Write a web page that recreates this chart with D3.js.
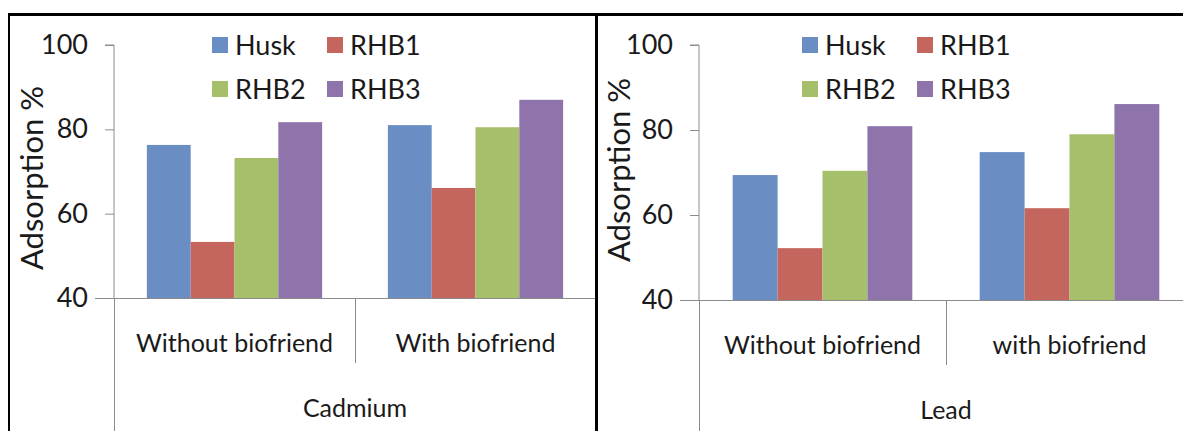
<!DOCTYPE html>
<html lang="en">
<head>
  <meta charset="UTF-8">
  <title>Adsorption % - Cadmium and Lead</title>
  <style>
    body { margin: 0; background: #fff; }
    text { font-family: Lato, "Liberation Sans", sans-serif; fill: #1a1a1a; }
    .axis-line { stroke: #8c8c8c; stroke-width: 1; shape-rendering: crispEdges; }
    .frame { stroke: #000; fill: none; shape-rendering: crispEdges; }
  </style>
  <script src="https://d3js.org/d3.v7.min.js"></script>
</head>
<body>
<div id="chart"></div>
<script>
  // Data
  var series = ["Husk", "RHB1", "RHB2", "RHB3"];
  var colors = ["#6a8dc3", "#c4665e", "#a6bf6a", "#8e74ab"];
  var yTicks = [40, 60, 80, 100];

  var cadmiumGroups = ["Without biofriend", "With biofriend"];
  var cadmiumValues = [
    [76.3, 53.3, 73.2, 81.7],
    [81.0, 66.1, 80.5, 87.0]
  ];

  var leadGroups = ["Without biofriend", "with biofriend"];
  var leadValues = [
    [69.4, 52.2, 70.4, 80.9],
    [74.8, 61.6, 79.0, 86.1]
  ];

  var width = 1183, height = 431;

  var svg = d3.select("#chart").append("svg")
    .attr("width", width)
    .attr("height", height);

  // one panel per metal
  var panels = [
    { metal: "Cadmium", groups: cadmiumGroups, values: cadmiumValues,
      left: 114, right: 596, top: 45, bottom: 298, titleX: 32, titleY: 178,
      legendX: 212 },
    { metal: "Lead", groups: leadGroups, values: leadValues,
      left: 699, right: 1193, top: 45, bottom: 300, titleX: 619, titleY: 170,
      legendX: 802 }
  ];

  panels.forEach(function(p) {
    var g = svg.append("g");

    var x0 = d3.scaleBand().domain(p.groups).range([p.left, p.right]).padding(0);
    var x1 = d3.scaleBand().domain(series).range([0, x0.bandwidth()])
      .paddingInner(0).paddingOuter(0.75);
    var y = d3.scaleLinear().domain([40, 100]).range([p.bottom, p.top]);

    // bars
    p.groups.forEach(function(grp, gi) {
      g.append("g")
        .attr("transform", "translate(" + x0(grp) + ",0)")
        .selectAll("rect")
        .data(p.values[gi])
        .enter().append("rect")
        .attr("x", (d, i) => x1(series[i]))
        .attr("width", x1.bandwidth())
        .attr("y", d => y(d))
        .attr("height", d => y(40) - y(d))
        .attr("fill", (d, i) => colors[i]);
    });

    // y axis
    var yAxis = d3.axisLeft(y).tickValues(yTicks).tickSize(9).tickPadding(17);
    var ya = g.append("g")
      .attr("transform", "translate(" + p.left + ",0)")
      .call(yAxis);
    ya.select(".domain").attr("stroke", "#8c8c8c").attr("d", "M-9," + y(100) + "H0V" + y(40));
    ya.selectAll(".tick line").attr("stroke", "#8c8c8c");
    ya.selectAll(".tick text")
      .attr("fill", "#1a1a1a")
      .style("font-size", "27px")
      .style("font-family", "Lato, sans-serif");

    // x axis base line
    g.append("line").attr("class", "axis-line")
      .attr("x1", p.left - 19).attr("x2", p.right)
      .attr("y1", y(40)).attr("y2", y(40));

    // multi level category dividers
    g.append("line").attr("class", "axis-line")
      .attr("x1", p.left).attr("x2", p.left)
      .attr("y1", y(40)).attr("y2", height);
    g.append("line").attr("class", "axis-line")
      .attr("x1", x0(p.groups[1])).attr("x2", x0(p.groups[1]))
      .attr("y1", y(40)).attr("y2", y(40) + 65);

    // group labels
    g.selectAll(".grp")
      .data(p.groups)
      .enter().append("text")
      .attr("class", "grp")
      .attr("x", d => x0(d) + x0.bandwidth() / 2)
      .attr("y", y(40) + 54)
      .attr("text-anchor", "middle")
      .style("font-size", "25px")
      .text(d => d);

    // metal label
    g.append("text")
      .attr("x", (p.left + p.right) / 2)
      .attr("y", y(40) + 119)
      .attr("text-anchor", "middle")
      .style("font-size", "25px")
      .text(p.metal);

    // y title
    g.append("text")
      .attr("transform", "translate(" + p.titleX + "," + p.titleY + ") rotate(-90)")
      .attr("text-anchor", "middle")
      .attr("dy", "0.35em")
      .style("font-size", "31px")
      .text("Adsorption %");

    // legend 2x2
    var leg = g.append("g").selectAll("g")
      .data(series)
      .enter().append("g")
      .attr("transform", (d, i) => "translate(" + (p.legendX + (i % 2) * 115) + "," + (37 + Math.floor(i / 2) * 44) + ")");
    leg.append("rect")
      .attr("width", 16).attr("height", 16)
      .attr("fill", (d, i) => colors[i]);
    leg.append("text")
      .attr("x", 23).attr("y", 8)
      .attr("dy", "0.36em")
      .style("font-size", "27px")
      .text(d => d);
  });

  // outer frame and panel divider
  svg.append("line").attr("class", "frame").attr("stroke-width", 3)
    .attr("x1", 8).attr("x2", width).attr("y1", 14).attr("y2", 14);
  svg.append("line").attr("class", "frame").attr("stroke-width", 2)
    .attr("x1", 9).attr("x2", 9).attr("y1", 13).attr("y2", height);
  svg.append("line").attr("class", "frame").attr("stroke-width", 3)
    .attr("x1", 596).attr("x2", 596).attr("y1", 13).attr("y2", height);
</script>
</body>
</html>
